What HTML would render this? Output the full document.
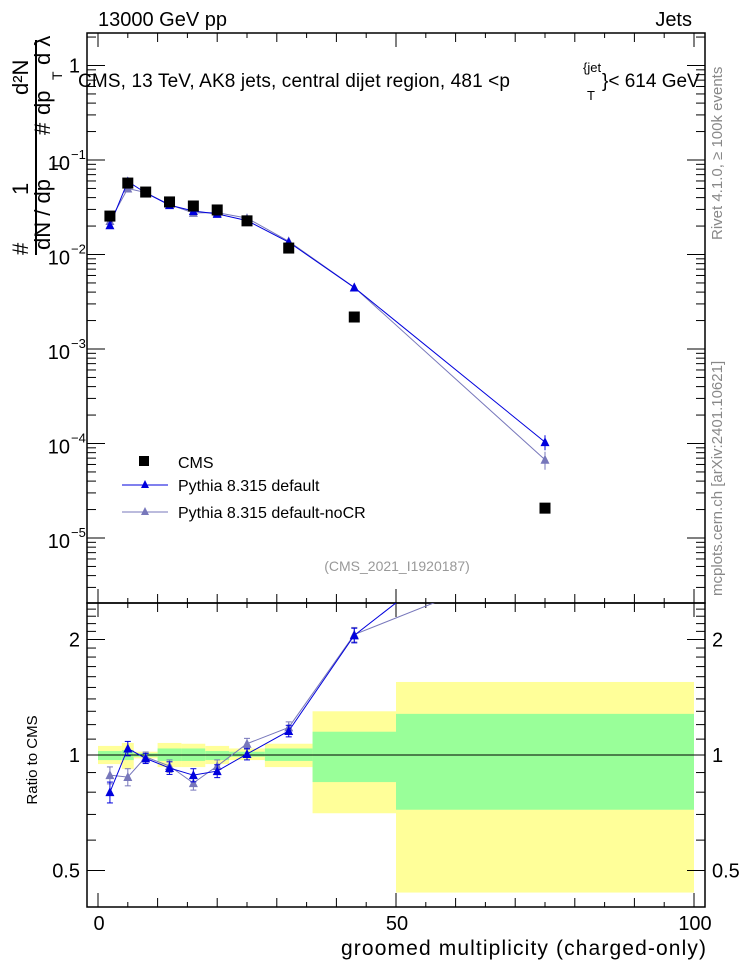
<!DOCTYPE html>
<html><head><meta charset="utf-8"><style>
body{margin:0;background:#fff;}
svg{display:block;font-family:"Liberation Sans",sans-serif;}
</style></head><body>
<svg id="c" width="746" height="972" viewBox="0 0 746 972" xmlns="http://www.w3.org/2000/svg">
<g id="bands"></g>
<g id="axes"></g>
<g id="series"></g>
<text x="98" y="26" font-size="20">13000 GeV pp</text>
<text x="692" y="26" font-size="20" text-anchor="end">Jets</text>
<text x="78" y="87" font-size="19" textLength="432">CMS, 13 TeV, AK8 jets, central dijet region, 481 &lt;p</text>
<text x="583" y="72" font-size="13">{jet</text>
<text x="587" y="100" font-size="13">T</text>
<text x="602" y="87" font-size="19">}&lt; 614 GeV</text>
<text transform="translate(722,240) rotate(-90)" font-size="15" fill="#888">Rivet 4.1.0, ≥ 100k events</text>
<text transform="translate(722,596) rotate(-90)" font-size="15" fill="#888">mcplots.cern.ch [arXiv:2401.10621]</text>
<text x="397" y="571" font-size="14" fill="#999" text-anchor="middle">(CMS_2021_I1920187)</text>
<g font-size="22">
<text transform="translate(28,195) rotate(-90)">1</text>
<line x1="36" y1="40" x2="36" y2="255" stroke="#000" stroke-width="2"/>
<text transform="translate(28,255) rotate(-90)">#</text>
<text transform="translate(50,250) rotate(-90)">dN / dp</text>
<text transform="translate(62,170) rotate(-90)" font-size="14">T</text>
<text transform="translate(28,95) rotate(-90)">d²N</text>
<text transform="translate(50,135) rotate(-90)">#</text>
<text transform="translate(50,115) rotate(-90)">dp</text>
<text transform="translate(62,80) rotate(-90)" font-size="14">T</text>
<text transform="translate(50,65) rotate(-90)">d λ</text>
</g>
<g font-size="16">
<rect x="139" y="456" width="10" height="10" fill="#000"/>
<text x="178" y="468">CMS</text>
<line x1="122" y1="485" x2="168" y2="485" stroke="#0000dd"/>
<polygon points="145,480 141,488 149,488" fill="#0000dd"/>
<text x="178" y="491">Pythia 8.315 default</text>
<line x1="122" y1="512" x2="168" y2="512" stroke="#7777bb"/>
<polygon points="145,507 141,515 149,515" fill="#7777bb"/>
<text x="178" y="518">Pythia 8.315 default-noCR</text>
</g>
<text x="706" y="955" font-size="21" textLength="365" text-anchor="end">groomed multiplicity (charged-only)</text>
<text transform="translate(37,760) rotate(-90)" font-size="15" text-anchor="middle">Ratio to CMS</text>
</svg>
<script>
const edges=[0,4,6,10,14,18,22,28,36,50,100];
const centers=[2,5,8,12,16,20,25,32,43,75];
const cms=[0.0255,0.057,0.0458,0.036,0.0326,0.0296,0.0227,0.0117,0.00218,2.07e-5];
const ratioDefault=[0.80,1.04,0.98,0.925,0.886,0.908,1.006,1.155,2.05,5.0];
const errDefault=[0.05,0.045,0.03,0.035,0.035,0.035,0.035,0.04,0.09,0.9];
const ratioNoCR=[0.886,0.876,0.988,0.936,0.845,0.936,1.07,1.18,2.06,3.25];
const errNoCR=[0.045,0.045,0.03,0.035,0.035,0.035,0.035,0.04,0.09,0.7];
const yelUp=[1.056,1.075,1.02,1.075,1.07,1.056,1.04,1.07,1.30,1.55];
const yelDn=[0.947,0.92,0.98,0.93,0.93,0.947,0.97,0.93,0.705,0.438];
const grnUp=[1.024,1.03,1.01,1.04,1.04,1.024,1.02,1.04,1.15,1.28];
const grnDn=[0.97,0.97,0.99,0.965,0.965,0.97,0.99,0.965,0.85,0.72];
const yTicksMain=[0,-1,-2,-3,-4,-5];
const yTicksRatio=[0.5,1,2];
const xTicks=[0,50,100];

const NS="http://www.w3.org/2000/svg";
const L=87,R=705,T1=33,B1=603,B2=907;
const X=v=>98+v*5.96;
const Y=v=>160-(Math.log10(v)+1)*94.5;
const YR=r=>755-115.5*Math.log2(r);
function mk(tag,attrs,parent){const e=document.createElementNS(NS,tag);for(const k in attrs)e.setAttribute(k,attrs[k]);parent.appendChild(e);return e;}
const bands=document.getElementById('bands'),axes=document.getElementById('axes'),ser=document.getElementById('series');
const clipDefs=mk('defs',{},document.getElementById('c'));
const cp=mk('clipPath',{id:'rc'},clipDefs);mk('rect',{x:L,y:B1,width:R-L,height:B2-B1},cp);
const cp2=mk('clipPath',{id:'mc'},clipDefs);mk('rect',{x:L,y:T1,width:R-L,height:B1-T1},cp2);

for(let i=0;i<centers.length;i++){
  let e=mk('rect',{x:X(edges[i]),y:YR(yelUp[i]),width:X(edges[i+1])-X(edges[i]),height:YR(yelDn[i])-YR(yelUp[i]),fill:'#ffff99'},bands);
  
  
  e=mk('rect',{x:X(edges[i]),y:YR(grnUp[i]),width:X(edges[i+1])-X(edges[i]),height:YR(grnDn[i])-YR(grnUp[i]),fill:'#99ff99'},bands);
  
  
}
mk('rect',{x:L,y:T1,width:R-L,height:B1-T1,fill:'none',stroke:'#000','stroke-width':1.5},axes);
mk('rect',{x:L,y:B1,width:R-L,height:B2-B1,fill:'none',stroke:'#000','stroke-width':1.5},axes);
mk('line',{x1:L,x2:R,y1:YR(1),y2:YR(1),stroke:'#000'},axes);
for(let v=0;v<=100;v+=5){
  const big=v%50===0,len=big?14:(v%10===0?9:5);
  for(const [y0,d] of [[T1,1],[B1,-1],[B1,1],[B2,-1]]) mk('line',{x1:X(v),x2:X(v),y1:y0,y2:y0+d*len,stroke:'#000'},axes);
}
xTicks.forEach(v=>{const t=mk('text',{x:X(v)+1,y:930,'font-size':20,'text-anchor':'middle'},axes);t.textContent=v;
  
  });
for(let d=-6;d<=0;d++)for(let m=1;m<10;m++){const v=m*Math.pow(10,d),y=Y(v);if(y<T1||y>B1)continue;const len=m===1?18:9;
  mk('line',{x1:L,x2:L+len,y1:y,y2:y,stroke:'#000'},axes);mk('line',{x1:R,x2:R-len,y1:y,y2:y,stroke:'#000'},axes);}
yTicksMain.forEach(p=>{const y=Y(Math.pow(10,p));
  if(p===0){const t=mk('text',{x:80,y:y+7,'font-size':20,'text-anchor':'end'},axes);t.textContent='1';
    
    }
  else{const t=mk('text',{x:70,y:y+10,'font-size':20,'text-anchor':'end'},axes);t.textContent='10';
    
    
    const s=mk('text',{x:71,y:y-1,'font-size':13},axes);s.textContent='\u2212'+(-p);}
});
for(const v of [0.4,0.5,0.6,0.7,0.8,0.9,1,1.1,1.2,1.3,1.4,1.5,1.6,1.7,1.8,1.9,2,2.1,2.2,2.3,2.4]){const y=YR(v);if(y<B1||y>B2)continue;const len=[0.5,1,2].includes(v)?18:9;
  mk('line',{x1:L,x2:L+len,y1:y,y2:y,stroke:'#000'},axes);mk('line',{x1:R,x2:R-len,y1:y,y2:y,stroke:'#000'},axes);}
yTicksRatio.forEach(v=>{for(const [x,a] of [[80,'end'],[712,'start']]){const t=mk('text',{x:x,y:YR(v)+7,'font-size':20,'text-anchor':a},axes);t.textContent=v;
  
  }});

function tri(x,y,c,g,name){const p=mk('polygon',{points:`${x},${y-5} ${x-4.5},${y+4} ${x+4.5},${y+4}`,fill:c},g);
  
  }
function series(ratio,err,color,nameKey){
  const gm=mk('g',{'clip-path':'url(#mc)'},ser),gr=mk('g',{'clip-path':'url(#rc)'},ser);
  mk('polyline',{points:centers.map((c,i)=>X(c)+','+Y(cms[i]*ratio[i])).join(' '),fill:'none',stroke:color,'stroke-width':1},gm);
  mk('polyline',{points:centers.map((c,i)=>X(c)+','+YR(ratio[i])).join(' '),fill:'none',stroke:color,'stroke-width':1},gr);
  centers.forEach((c,i)=>{
    const x=X(c),v=cms[i]*ratio[i],f=err[i]/ratio[i];
    mk('line',{x1:x,x2:x,y1:Y(v*(1+f)),y2:Y(v*(1-f)),stroke:color},gm);
    tri(x,Y(v),color,gm,nameKey+'-point');
    mk('line',{x1:x,x2:x,y1:YR(ratio[i]+err[i]),y2:YR(ratio[i]-err[i]),stroke:color},gr);
    for(const r of [ratio[i]+err[i],ratio[i]-err[i]])mk('line',{x1:x-3,x2:x+3,y1:YR(r),y2:YR(r),stroke:color},gr);
    tri(x,YR(ratio[i]),color,gr,nameKey+'-ratio-point');
  });
}
series(ratioNoCR,errNoCR,'#7777bb','nocr');
series(ratioDefault,errDefault,'#0000dd','default');
centers.forEach((c,i)=>{const r=mk('rect',{x:X(c)-5.5,y:Y(cms[i])-5.5,width:11,height:11,fill:'#000'},ser);
  
  });
</script>
</body></html>
